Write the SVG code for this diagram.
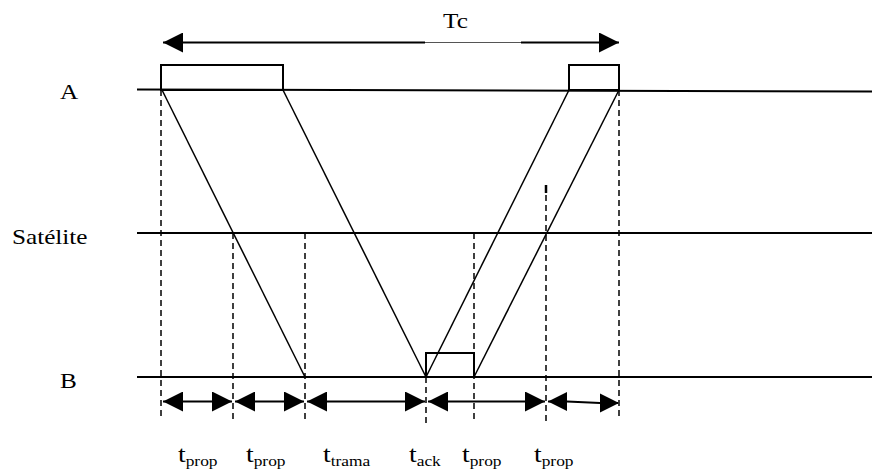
<svg xmlns="http://www.w3.org/2000/svg" width="872" height="473" viewBox="0 0 872 473">
<style>
.ln{stroke:#000;stroke-width:2;fill:none}
.thin{stroke:#000;stroke-width:1.5;fill:none}
.dash{stroke:#000;stroke-width:1.5;stroke-dasharray:6 4;fill:none}
.box{stroke:#000;stroke-width:2;fill:none}
text{font-family:"Liberation Serif","Times New Roman",serif;fill:#000}
.lbl{font-size:21px}
.tl{font-size:23px}
.sub{font-size:14.5px}
</style>
<defs>
<marker id="ah" viewBox="0 0 10 10" refX="10" refY="5" markerUnits="userSpaceOnUse" markerWidth="20" markerHeight="20" orient="auto-start-reverse">
<path d="M0,0 L10,5 L0,10 z" fill="#000"/>
</marker>
</defs>
<rect width="872" height="473" fill="#fff"/>

<g id="labels">
<text id="labelA" class="lbl" transform="translate(60,99) scale(1.2,1)">A</text>
<text id="labelSat" class="lbl" transform="translate(12,244) scale(1.2,1)">Satélite</text>
<text id="labelB" class="lbl" transform="translate(60,388) scale(1.2,1)">B</text>
<text id="labelTc" class="lbl" font-size="22" transform="translate(443,28) scale(1.2,1)">Tc</text>
</g>

<g id="timelines">
<line class="ln" x1="137" y1="89.5" x2="872" y2="91.5"/>
<line class="ln" x1="137" y1="233" x2="872" y2="233"/>
<line class="ln" x1="137" y1="377" x2="872" y2="377"/>
</g>

<g id="frames">
<rect id="frameA1" class="box" x="161" y="65" width="122" height="25"/>
<rect id="frameA2" class="box" x="569" y="65" width="50" height="25"/>
<rect id="ackB" class="box" x="426" y="353" width="48" height="24"/>
</g>

<g id="connectors">
<line class="thin" x1="162" y1="90" x2="305" y2="377"/>
<line class="thin" x1="283" y1="90" x2="426" y2="377"/>
<line class="thin" x1="426" y1="377" x2="569" y2="90"/>
<line class="thin" x1="474" y1="377" x2="619" y2="90"/>

<line class="dash" x1="161" y1="90" x2="161" y2="420"/>
<line class="dash" x1="233" y1="233" x2="233" y2="423"/>
<line class="dash" x1="305" y1="233" x2="305" y2="422"/>
<line class="dash" x1="426" y1="377" x2="426" y2="424"/>
<line class="dash" x1="474" y1="233" x2="474" y2="422"/>
<line class="dash" x1="546" y1="195" x2="546" y2="423"/>
<line x1="546" y1="185" x2="546" y2="193" stroke="#000" stroke-width="2.5"/>
<line class="dash" x1="619" y1="90" x2="619" y2="420"/>

<line class="ln" x1="163" y1="42.5" x2="425" y2="42.5" marker-start="url(#ah)"/>
<line x1="425" y1="42.5" x2="521" y2="42.5" stroke="#555" stroke-width="1"/>
<line class="ln" x1="521" y1="42.5" x2="619" y2="42.5" marker-end="url(#ah)"/>

<line class="ln" x1="163" y1="401.5" x2="232" y2="401.5" marker-start="url(#ah)" marker-end="url(#ah)"/>
<line class="ln" x1="235" y1="401.5" x2="304" y2="401.5" marker-start="url(#ah)" marker-end="url(#ah)"/>
<line class="ln" x1="307" y1="401.5" x2="425" y2="401.5" marker-start="url(#ah)" marker-end="url(#ah)"/>
<line class="ln" x1="428" y1="401.5" x2="545" y2="401.5" marker-start="url(#ah)" marker-end="url(#ah)"/>
<polyline class="ln" points="548,401.5 567,401.5 600,403 618,403"/>
<path d="M548,401.5 L567,392 L567,411 z" fill="#000"/>
<path d="M619,403 L600,393.5 L600,412.5 z" fill="#000"/>
</g>

<g id="interval-labels">
<text class="tl" transform="translate(178,462) scale(1.2,1)">t<tspan class="sub" dy="3.5">prop</tspan></text>
<text class="tl" transform="translate(246,462) scale(1.2,1)">t<tspan class="sub" dy="3.5">prop</tspan></text>
<text class="tl" transform="translate(323,462) scale(1.2,1)">t<tspan class="sub" dy="3.5">trama</tspan></text>
<text class="tl" transform="translate(409,462) scale(1.2,1)">t<tspan class="sub" dy="3.5">ack</tspan></text>
<text class="tl" transform="translate(462,462) scale(1.2,1)">t<tspan class="sub" dy="3.5">prop</tspan></text>
<text class="tl" transform="translate(534,462) scale(1.2,1)">t<tspan class="sub" dy="3.5">prop</tspan></text>
</g>
</svg>
